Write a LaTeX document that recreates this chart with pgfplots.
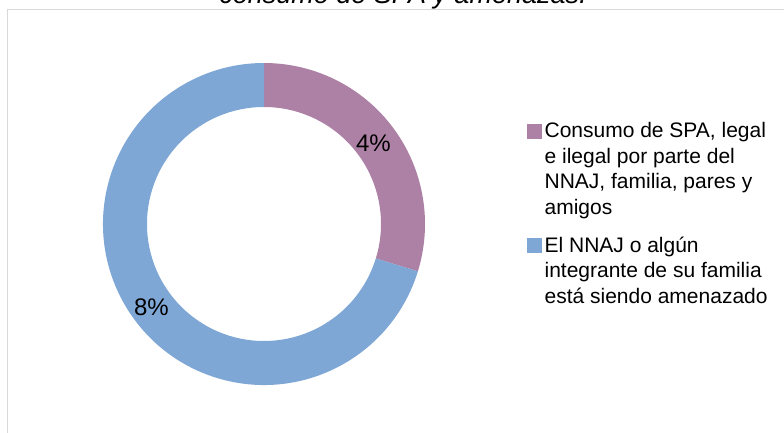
\documentclass[border=0pt]{standalone}
\usepackage{pgfplots}
\pgfplotsset{compat=1.18}
\usepackage{pgfplotstable}
\usepackage{fontspec}
\setmainfont{Liberation Sans}
\usetikzlibrary{calc}
\definecolor{spa}{HTML}{AD80A5}
\definecolor{amz}{HTML}{7FA7D5}
\definecolor{framec}{HTML}{D9D9D9}
\pgfplotstableread{
idx value
0 3.57
1 8.43
}\donutdata
\begin{document}%
\begin{tikzpicture}
\pgfplotstablegetelem{0}{value}\of\donutdata \pgfmathsetmacro\va{\pgfplotsretval}
\pgfplotstablegetelem{1}{value}\of\donutdata \pgfmathsetmacro\vb{\pgfplotsretval}
\pgfmathsetmacro\tot{\va+\vb}
\pgfmathsetmacro\aA{90-360*\va/\tot}
\pgfmathsetmacro\mA{90-180*\va/\tot}
\pgfmathsetmacro\mB{\aA-180*\vb/\tot}
\useasboundingbox (0pt,0pt) rectangle (784pt,432pt);
\clip (0pt,0pt) rectangle (784pt,432pt);
\draw[framec, line width=1pt] (7.5pt,-10pt) rectangle (800pt,422.5pt);
\node[font=\fontsize{27}{32}\selectfont\itshape, anchor=base, inner sep=0pt] at (403pt,428pt) {consumo de SPA y amenazas.};
\begin{axis}[
  at={(0pt,0pt)}, anchor=origin,
  x=1pt, y=1pt, xmin=0, xmax=784, ymin=0, ymax=432,
  hide axis, clip=false,
  legend style={at={(axis cs:527,311)}, anchor=north west, draw=none, fill=none,
    font=\fontsize{21}{25.5}\selectfont, row sep=19pt, column sep=2pt, inner sep=0pt,
    nodes={align=left, inner sep=1pt},
    cells={anchor=north west}},
  legend image code/.code={\fill[#1] (0pt,-17pt) rectangle (14pt,-3pt);},
]
\addlegendimage{spa, fill=spa}
\addlegendentry{Consumo de SPA, legal\\e ilegal por parte del\\NNAJ, familia, pares y\\amigos}
\addlegendimage{amz, fill=amz}
\addlegendentry{El NNAJ o algún\\integrante de su familia\\está siendo amenazado}
\fill[spa] ($(axis cs:264,208)+(90:161pt)$) arc[start angle=90, end angle=\aA, radius=161pt]
  -- ($(axis cs:264,208)+(\aA:117pt)$) arc[start angle=\aA, end angle=90, radius=117pt] -- cycle;
\fill[amz] ($(axis cs:264,208)+(\aA:161pt)$) arc[start angle=\aA, end angle=-270, radius=161pt]
  -- ($(axis cs:264,208)+(-270:117pt)$) arc[start angle=-270, end angle=\aA, radius=117pt] -- cycle;
\node[font=\fontsize{24}{28}\selectfont] at ($(axis cs:264,208)+(\mA:136pt)$) {4\%};
\node[font=\fontsize{24}{28}\selectfont] at ($(axis cs:264,208)+(\mB:140pt)$) {8\%};
\end{axis}
\end{tikzpicture}%
\end{document}
